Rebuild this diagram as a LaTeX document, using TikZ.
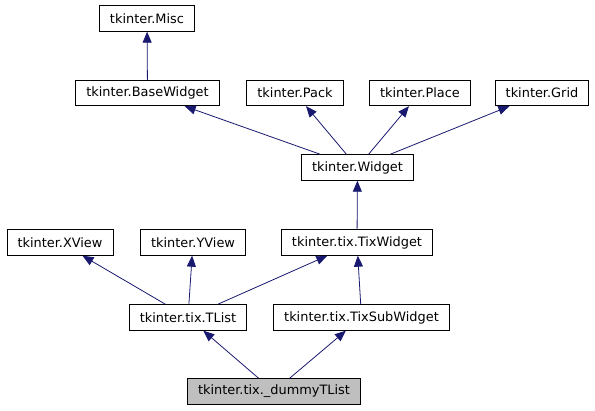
\documentclass[tikz,border=0pt]{standalone}
\usepackage{fontspec}
\setmainfont{DejaVu Sans}
\usepackage{tikz}
\usetikzlibrary{arrows.meta}

\definecolor{edgeblue}{HTML}{191970}
\definecolor{nodegray}{HTML}{BFBFBF}

\tikzset{
	cls/.style={draw=black, line width=0.9pt, fill=white, minimum height=25.5pt, inner xsep=10.5pt, inner ysep=0pt, font=\fontsize{12.9}{15}\selectfont},
	current/.style={cls, fill=nodegray},
	inherit/.style={draw=edgeblue, line width=0.8pt, -{Triangle[length=11pt,width=9pt]}}
}

\begin{document}
\begin{tikzpicture}[x=1pt, y=-1pt]
				% Frame
				\useasboundingbox (0,0) rectangle (595,411);
				% Classes
				\node[cls] (misc) at (147,18.5) {tkinter.Misc};
				\node[cls] (basewidget) at (147.5,93) {tkinter.BaseWidget};
				\node[cls] (pack) at (295,93) {tkinter.Pack};
				\node[cls] (place) at (420,93) {tkinter.Place};
				\node[cls] (grid) at (542,93) {tkinter.Grid};
				\node[cls] (widget) at (357.5,167.5) {tkinter.Widget};
				\node[cls] (xview) at (60,242.5) {tkinter.XView};
				\node[cls] (yview) at (193,242.5) {tkinter.YView};
				\node[cls] (tixwidget) at (357,242.5) {tkinter.tix.TixWidget};
				\node[cls] (tlist) at (188,317.5) {tkinter.tix.TList};
				\node[cls] (tixsubwidget) at (361.5,317.5) {tkinter.tix.TixSubWidget};
				\node[current] (dummytlist) at (274,391.5) {tkinter.tix.\_dummyTList};
				% Inheritance
				\foreach \child/\parent in {basewidget/misc, widget/basewidget, widget/pack, widget/place, widget/grid, tixwidget/widget, tlist/xview, tlist/yview, tlist/tixwidget, tixsubwidget/tixwidget, dummytlist/tlist, dummytlist/tixsubwidget}
					\draw[inherit] (\child) -- (\parent);
			\end{tikzpicture}
\end{document}
